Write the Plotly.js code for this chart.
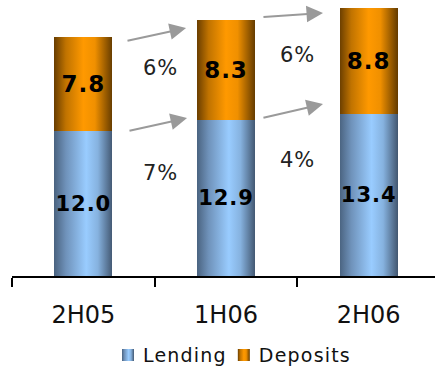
<!DOCTYPE html>
<html><head><meta charset="utf-8">
<script src="https://cdn.plot.ly/plotly-3.0.1.min.js"></script>
<style>
html,body{margin:0;padding:0;overflow:hidden;background:#fff}
#chart .legendtext{letter-spacing:1.2px}
#chart .annotation-text{letter-spacing:1px}
#chart .bartext{letter-spacing:1px}
</style>
</head><body><div id="chart" style="width:440px;height:367px"></div>
<script>
const categories = ['2H05', '1H06', '2H06'];
const seriesNames = ['Lending', 'Deposits'];
const lending = [12.0, 12.9, 13.4];
const deposits = [7.8, 8.3, 8.8];
const lendingGrowth = ['7%', '4%'];
const depositsGrowth = ['6%', '6%'];

const FONT = 'DejaVu Sans, Verdana, sans-serif';
const valueFont = {family: FONT, size: 23, color: '#000', weight: 'bold'};

const data = [
  {type: 'bar', name: seriesNames[0], x: categories, y: lending,
   text: lending.map(v => v.toFixed(1)), textposition: 'inside', insidetextanchor: 'middle',
   textangle: 0, textfont: valueFont, marker: {color: '#7fa9d6', line: {width: 0}}},
  {type: 'bar', name: seriesNames[1], x: categories, y: deposits,
   text: deposits.map(v => v.toFixed(1)), textposition: 'inside', insidetextanchor: 'middle',
   textangle: 0, textfont: valueFont, marker: {color: '#e08a00', line: {width: 0}}}
];

const arrowStyle = {text: '', showarrow: true, axref: 'x', ayref: 'y', arrowhead: 2,
  arrowsize: 1.65, arrowwidth: 2, arrowcolor: '#9a9a9a', standoff: 0, startstandoff: 0};
const pctFont = {family: FONT, size: 21, color: '#222'};

const annotations = [
  Object.assign({x: 0.72, y: 20.55, ax: 0.299, ay: 19.47}, arrowStyle),
  Object.assign({x: 0.727, y: 13.09, ax: 0.313, ay: 12.01}, arrowStyle),
  Object.assign({x: 1.68, y: 21.79, ax: 1.252, ay: 21.46}, arrowStyle),
  Object.assign({x: 1.68, y: 14.25, ax: 1.252, ay: 13.09}, arrowStyle),
  {x: 0.541, y: 17.23, text: depositsGrowth[0], showarrow: false, font: pctFont},
  {x: 0.541, y: 8.53, text: lendingGrowth[0], showarrow: false, font: pctFont},
  {x: 1.498, y: 18.31, text: depositsGrowth[1], showarrow: false, font: pctFont},
  {x: 1.498, y: 9.61, text: lendingGrowth[1], showarrow: false, font: pctFont}
];

const layout = {
  width: 440, height: 367,
  margin: {l: 12, r: 0, t: 0, b: 91},
  paper_bgcolor: '#fff', plot_bgcolor: '#fff',
  barmode: 'stack', bargap: 0.593,
  constraintext: 'none',
  showlegend: true,
  legend: {orientation: 'h', x: 0.527, xanchor: 'center', y: -0.24, yanchor: 'middle',
    font: {family: FONT, size: 19, color: '#111'}, itemwidth: 30, traceorder: 'normal'},
  xaxis: {type: 'category', range: [-0.5, 2.5], showline: true, linecolor: '#000', linewidth: 2,
    ticks: 'outside', tickson: 'boundaries', ticklen: 9, tickwidth: 2, tickcolor: '#000',
    ticklabelstandoff: 16, automargin: false,
    tickfont: {family: FONT, size: 24, color: '#111'}, showgrid: false, zeroline: false},
  yaxis: {range: [0, 22.87], visible: false, showgrid: false, zeroline: false, automargin: false},
  annotations: annotations,
  hovermode: false
};

const gradients = {
  Lending: [['0%', '#4a6380'], ['20%', '#6f92ba'], ['55%', '#99ccff'], ['75%', '#86b2df'], ['100%', '#435872']],
  Deposits: [['0%', '#6a3e00'], ['20%', '#c07300'], ['50%', '#ff9900'], ['70%', '#f09000'], ['100%', '#653c00']]
};

function parseTranslate(el) {
  const m = /translate\(\s*([-\d.e]+)[ ,]+([-\d.e]+)\s*\)/.exec(el.getAttribute('transform') || '');
  return m ? [parseFloat(m[1]), parseFloat(m[2])] : [0, 0];
}

function applyGradients(gd) {
  const ns = 'http://www.w3.org/2000/svg';
  const svg = gd.querySelector('svg.main-svg');
  let defs = svg.querySelector('defs');
  if (!defs) { defs = document.createElementNS(ns, 'defs'); svg.insertBefore(defs, svg.firstChild); }
  Object.keys(gradients).forEach(name => {
    const g = document.createElementNS(ns, 'linearGradient');
    g.setAttribute('id', 'grad-' + name);
    g.setAttribute('x1', '0'); g.setAttribute('x2', '1'); g.setAttribute('y1', '0'); g.setAttribute('y2', '0');
    gradients[name].forEach(([off, col]) => {
      const s = document.createElementNS(ns, 'stop');
      s.setAttribute('offset', off); s.setAttribute('stop-color', col);
      g.appendChild(s);
    });
    defs.appendChild(g);
  });
  gd.querySelectorAll('.barlayer .trace').forEach((t, i) => {
    const name = seriesNames[i];
    t.querySelectorAll('.point path').forEach(p => { p.style.fill = 'url(#grad-' + name + ')'; });
  });
  // legend: gradient symbols, tighter spacing, final placement
  const items = Array.from(gd.querySelectorAll('.legend .traces'));
  items.forEach(t => {
    const txt = t.querySelector('.legendtext');
    const name = txt ? txt.textContent : null;
    if (gradients[name]) t.querySelectorAll('.legendpoints path').forEach(p => { p.style.fill = 'url(#grad-' + name + ')'; });
    const pts = t.querySelector('.legendpoints');
    if (pts) pts.setAttribute('transform', 'translate(5,0)');
  });
  if (items.length === 2) {
    const [x0] = parseTranslate(items[0]);
    const w0 = items[0].querySelector('.legendtext').getBBox().width;
    items[1].setAttribute('transform', 'translate(' + (x0 + w0 + 32) + ',' + parseTranslate(items[1])[1] + ')');
    const base = gd.getBoundingClientRect();
    const sym = items[0].querySelector('.legendpoints path').getBoundingClientRect();
    const txt = items[0].querySelector('.legendtext').getBoundingClientRect();
    const baseline = txt.bottom - base.top - 0.236 * 19;
    const leg = gd.querySelector('.legend');
    const [lx, ly] = parseTranslate(leg);
    leg.setAttribute('transform', 'translate(' + (lx + 122 - (sym.left - base.left)) + ',' + (ly + 362 - baseline) + ')');
  }
}

const gd = document.getElementById('chart');
Plotly.newPlot(gd, data, layout, {staticPlot: true, displayModeBar: false}).then(applyGradients);
</script></body></html>
